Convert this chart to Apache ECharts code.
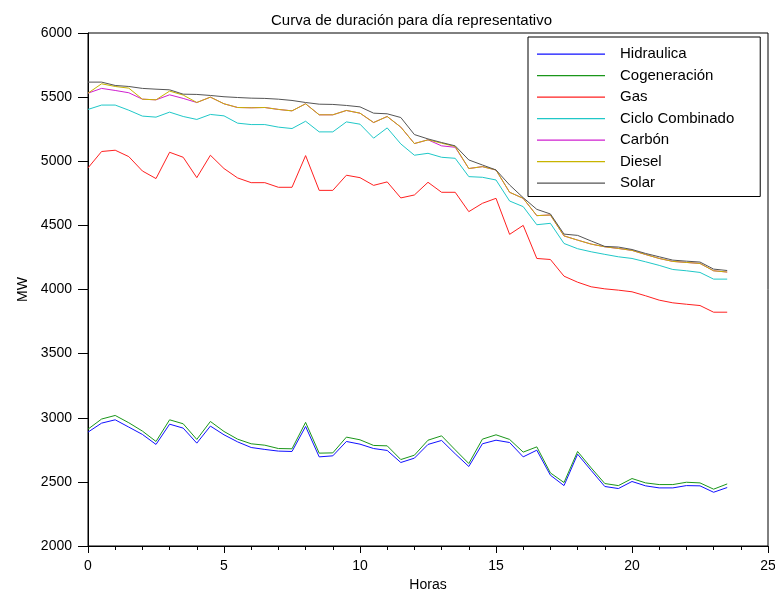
<!DOCTYPE html>
<html>
<head>
<meta charset="utf-8">
<script src="https://cdn.jsdelivr.net/npm/echarts@6/dist/echarts.min.js"></script>
<style>html,body{margin:0;padding:0;background:#fff}#c{width:775px;height:593px}</style>
</head>
<body>
<div id="c"></div>
<script>
var hours = [0,0.5,1,1.5,2,2.5,3,3.5,4,4.5,5,5.5,6,6.5,7,7.5,8,8.5,9,9.5,10,10.5,11,11.5,12,12.5,13,13.5,14,14.5,15,15.5,16,16.5,17,17.5,18,18.5,19,19.5,20,20.5,21,21.5,22,22.5,23,23.5];

var hidraulica = [2888,2958,2984,2927,2870,2792,2950,2919,2802,2935,2867,2812,2768,2753,2740,2737,2932,2695,2703,2815,2794,2760,2745,2651,2685,2792,2823,2719,2620,2797,2825,2807,2695,2747,2552,2471,2716,2589,2464,2448,2503,2469,2453,2453,2471,2469,2419,2456];
var cogeneracion = [2911,2990,3018,2961,2896,2815,2984,2953,2831,2971,2893,2833,2797,2786,2760,2758,2964,2724,2726,2849,2828,2784,2781,2674,2708,2825,2859,2750,2643,2833,2867,2831,2732,2773,2570,2495,2737,2609,2487,2471,2526,2492,2479,2479,2497,2492,2443,2484];
var gas = [4948,5076,5086,5036,4924,4865,5070,5031,4872,5047,4943,4870,4833,4833,4797,4797,5044,4773,4773,4891,4872,4812,4839,4714,4737,4836,4758,4758,4607,4672,4711,4430,4500,4242,4234,4104,4057,4021,4005,3995,3982,3951,3917,3896,3885,3875,3823,3823];
var cicloCombinado = [5404,5438,5438,5398,5352,5344,5383,5349,5326,5365,5354,5297,5286,5286,5266,5255,5312,5229,5229,5307,5289,5180,5260,5135,5047,5062,5031,5023,4880,4875,4854,4690,4646,4505,4516,4359,4318,4294,4274,4255,4242,4216,4188,4156,4146,4133,4081,4081];
var carbon = [5531,5568,5552,5534,5484,5479,5518,5490,5458,5500,5448,5419,5417,5419,5404,5393,5448,5362,5362,5396,5375,5302,5349,5266,5138,5167,5120,5109,4943,4958,4932,4758,4711,4576,4581,4418,4385,4354,4333,4320,4305,4273,4242,4219,4211,4203,4146,4136];
var diesel = [5531,5604,5583,5570,5484,5479,5547,5516,5458,5500,5448,5419,5417,5419,5404,5393,5448,5362,5362,5396,5375,5302,5349,5266,5138,5167,5141,5115,4943,4958,4932,4758,4711,4576,4581,4418,4385,4354,4333,4320,4305,4273,4242,4219,4211,4203,4146,4136];
var solar = [5617,5617,5591,5583,5568,5562,5557,5523,5521,5513,5503,5497,5492,5490,5484,5474,5458,5445,5443,5435,5424,5375,5370,5341,5208,5174,5146,5120,5010,4971,4932,4815,4716,4625,4589,4432,4422,4378,4336,4331,4312,4281,4255,4229,4221,4214,4159,4148];

var seriesNames = ['Hidraulica','Cogeneración','Gas','Ciclo Combinado','Carbón','Diesel','Solar'];
var seriesData = [hidraulica, cogeneracion, gas, cicloCombinado, carbon, diesel, solar];
var seriesColors = ['#1010ff','#1a961a','#ff2020','#20c8c8','#d020d0','#c8b400','#555555'];

var FONT = 'Liberation Sans, Arial, sans-serif';
var LINE_ICON = 'path://M0,7h68v1.2h-68z M0,0h0.01v0.01h-0.01z M67.99,14.99h0.01v0.01h-0.01z';

function pairs(arr){ return arr.map(function(v,i){ return [hours[i], v]; }); }

var series = seriesNames.map(function(n, k){
  return {
    name: n, type: 'line', data: pairs(seriesData[k]),
    symbol: 'none', showSymbol: false, animation: false,
    lineStyle: {width: 1, color: seriesColors[k]},
    itemStyle: {color: seriesColors[k]}
  };
});

var chart = echarts.init(document.getElementById('c'), null, {renderer: 'canvas'});
chart.setOption({
  backgroundColor: '#fff',
  animation: false,
  title: {
    text: 'Curva de duración para día representativo',
    left: 266, top: 8,
    textStyle: {fontFamily: FONT, fontSize: 15, fontWeight: 'normal', color: '#000'}
  },
  legend: {
    orient: 'vertical', left: 528, top: 37,
    padding: [9.5, 26, 6, 9],
    itemWidth: 68, itemHeight: 15, itemGap: 6.5,
    icon: LINE_ICON,
    borderColor: '#000', borderWidth: 1, backgroundColor: '#fff',
    textStyle: {fontFamily: FONT, fontSize: 15, color: '#000', padding: [0,0,0,10]},
    data: seriesNames
  },
  grid: {left: 88, right: 7, top: 33, bottom: 47, containLabel: false, outerBoundsMode: 'none',
         show: true, borderColor: '#000', borderWidth: 1, backgroundColor: 'transparent'},
  xAxis: {
    type: 'value', min: 0, max: 25, interval: 5,
    name: 'Horas', nameLocation: 'middle', nameGap: 32,
    nameTextStyle: {fontFamily: FONT, fontSize: 14, color: '#000'},
    axisLine: {show: true, onZero: false, lineStyle: {color: '#000', width: 1}},
    axisTick: {show: true, inside: false, length: 7, lineStyle: {color: '#000'}},
    minorTick: {show: true, splitNumber: 5, length: 4, lineStyle: {color: '#000'}},
    axisLabel: {fontFamily: FONT, fontSize: 14, color: '#000', margin: 13},
    splitLine: {show: false}
  },
  yAxis: {
    type: 'value', min: 2000, max: 6000, interval: 500,
    name: 'MW', nameLocation: 'middle', nameGap: 57, nameRotate: 90,
    nameTextStyle: {fontFamily: FONT, fontSize: 14, color: '#000'},
    axisLine: {show: true, onZero: false, lineStyle: {color: '#000', width: 1}},
    axisTick: {show: true, inside: false, length: 10, lineStyle: {color: '#000'}},
    axisLabel: {fontFamily: FONT, fontSize: 14, color: '#000', margin: 16, formatter: function(v){ return String(v); }},
    splitLine: {show: false}
  },
  series: series
});
</script>
</body>
</html>
